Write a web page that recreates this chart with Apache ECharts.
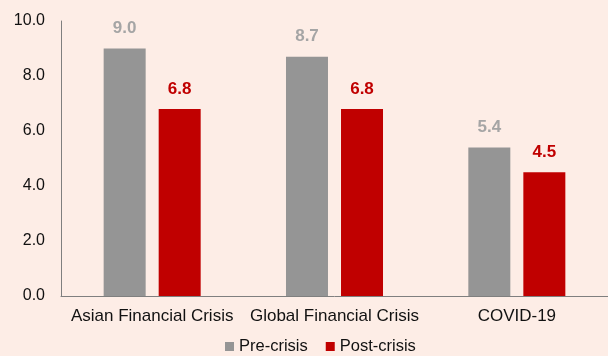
<!DOCTYPE html>
<html>
<head>
<meta charset="utf-8">
<script src="https://cdn.jsdelivr.net/npm/echarts@6/dist/echarts.min.js"></script>
<style>
  html, body { margin: 0; padding: 0; background: #fdede6; }
  #chart { width: 608px; height: 356px; }
</style>
</head>
<body>
<div id="chart"></div>
<script>
// Crisis episodes on the category axis
const categories = ['Asian Financial Crisis', 'Global Financial Crisis', 'COVID-19'];
// Values before and after each crisis
const preCrisis = [9.0, 8.7, 5.4];
const postCrisis = [6.8, 6.8, 4.5];
// Value-axis ticks
const yTicks = [0, 2, 4, 6, 8, 10];

const FONT = 'Liberation Sans, Arial, sans-serif';

const chart = echarts.init(document.getElementById('chart'), null, { renderer: 'canvas' });
chart.setOption({
  backgroundColor: '#fdede6',
  animation: false,
  textStyle: { fontFamily: FONT },
  grid: { left: 61, right: 0, top: 21, bottom: 60, containLabel: false },
  legend: {
    bottom: -4,
    left: 220,
    itemWidth: 9,
    itemHeight: 9,
    itemGap: 18,
    icon: 'rect',
    textStyle: { fontFamily: FONT, fontSize: 16.5, color: '#111' },
    data: ['Pre-crisis', 'Post-crisis']
  },
  xAxis: {
    type: 'category',
    data: categories,
    axisLine: { lineStyle: { color: '#7f7f7f', width: 1 } },
    axisTick: { show: false },
    axisLabel: { fontFamily: FONT, fontSize: 17, color: '#111', margin: 12, interval: 0 }
  },
  yAxis: {
    type: 'value',
    min: yTicks[0],
    max: yTicks[yTicks.length - 1],
    interval: 2,
    axisLine: { show: true, lineStyle: { color: '#7f7f7f', width: 1 } },
    axisTick: { show: false },
    splitLine: { show: false },
    axisLabel: {
      fontFamily: FONT, fontSize: 16, color: '#111', margin: 16,
      formatter: v => v.toFixed(1)
    }
  },
  series: [
    {
      name: 'Pre-crisis',
      type: 'bar',
      data: preCrisis,
      barWidth: 42,
      barGap: '31%',
      itemStyle: { color: '#959595' },
      label: {
        show: true, position: 'top', distance: 11.5,
        fontFamily: FONT, fontSize: 17, fontWeight: 'bold', color: '#a5a5a5',
        formatter: p => p.value.toFixed(1)
      }
    },
    {
      name: 'Post-crisis',
      type: 'bar',
      data: postCrisis,
      barWidth: 42,
      itemStyle: { color: '#c00000' },
      label: {
        show: true, position: 'top', distance: 11.5,
        fontFamily: FONT, fontSize: 17, fontWeight: 'bold', color: '#c00000',
        formatter: p => p.value.toFixed(1)
      }
    }
  ]
});
</script>
</body>
</html>
